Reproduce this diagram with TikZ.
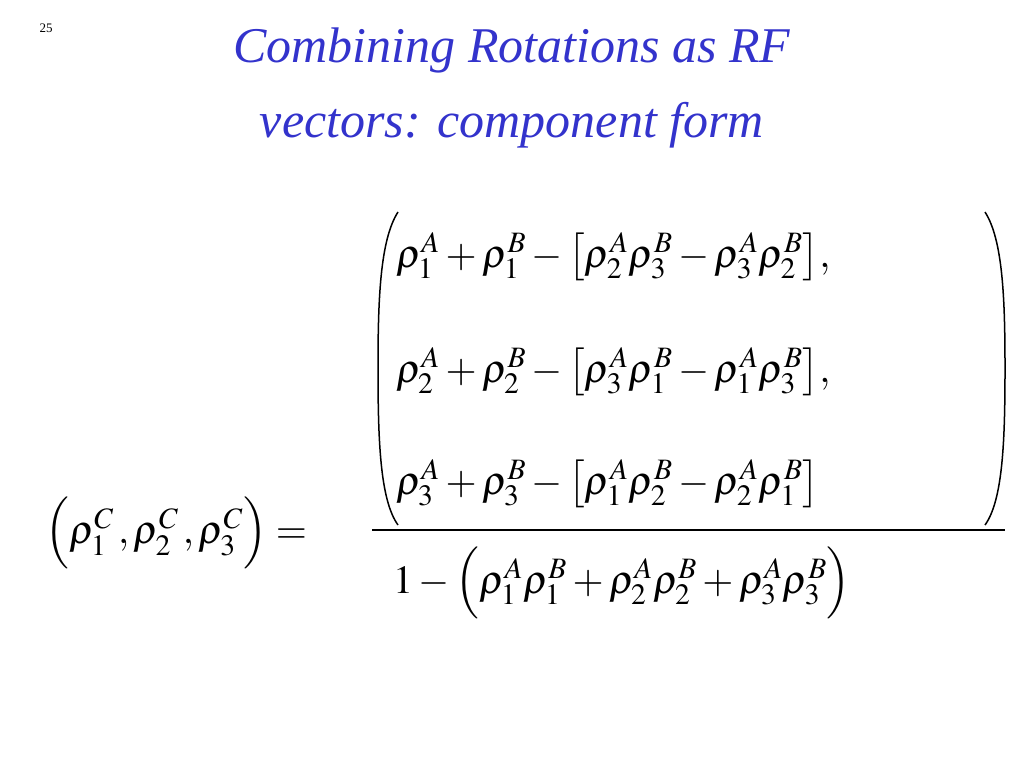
\documentclass[tikz,border=0pt]{standalone}
\usepackage{mathptmx}
\usepackage{fontspec}
\setmainfont{Liberation Serif}
\definecolor{ttl}{RGB}{51,51,204}
\begin{document}
\begin{tikzpicture}[x=1pt,y=-1pt,
  eq/.style={anchor=west,inner sep=0pt,font=\fontsize{40}{44}\selectfont},
  ttlf/.style={text=ttl,font=\fontsize{50}{60}\selectfont\itshape}]
\useasboundingbox (0,0) rectangle (1024,768);
\node[font=\fontsize{13}{15}\selectfont] (num) at (46,28) {25};
\node[ttlf] (t1) at (512,50) {Combining Rotations as RF};
\node[ttlf] (t2) at (512,125) {vectors: component form};
\newcommand{\rr}[2]{\rho^{#1}_{#2}}
\node[eq] (r1) at (396,257) {$\rr{A}{1}+\rr{B}{1}-\bigl[\rr{A}{2}\rr{B}{3}-\rr{A}{3}\rr{B}{2}\bigr],$};
\node[eq] (r2) at (396,372) {$\rr{A}{2}+\rr{B}{2}-\bigl[\rr{A}{3}\rr{B}{1}-\rr{A}{1}\rr{B}{3}\bigr],$};
\node[eq] (r3) at (396,484) {$\rr{A}{3}+\rr{B}{3}-\bigl[\rr{A}{1}\rr{B}{2}-\rr{A}{2}\rr{B}{1}\bigr]$};
\coordinate (lt) at (398,212); \coordinate (lb) at (398,525);
\coordinate (rt) at (985,212); \coordinate (rb) at (985,525);
\draw[line width=1.5pt] (lt) .. controls (380,240) and (378,300) .. (378,368) .. controls (378,440) and (380,500) .. (lb);
\draw[line width=1.5pt] (rt) .. controls (1003,240) and (1005,300) .. (1005,368) .. controls (1005,440) and (1003,500) .. (rb);
\coordinate (fa) at (372,530); \coordinate (fb) at (1005,530);
\draw[line width=1.5pt] (fa) -- (fb);
\node[eq] (den) at (393,583) {$1-\Bigl(\rr{A}{1}\rr{B}{1}+\rr{A}{2}\rr{B}{2}+\rr{A}{3}\rr{B}{3}\Bigr)$};
\node[eq] (lhs) at (45,533) {$\Bigl(\rr{C}{1}\,,\rr{C}{2}\,,\rr{C}{3}\Bigr)=$};
\end{tikzpicture}
\end{document}
